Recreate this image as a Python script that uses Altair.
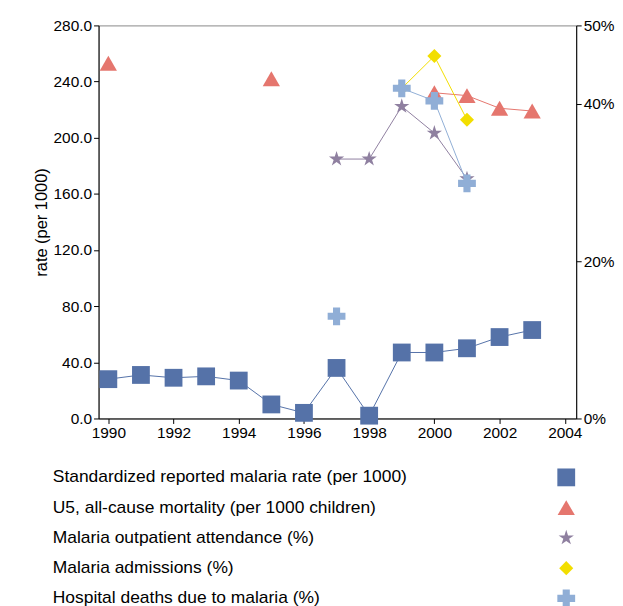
import altair as alt
import pandas as pd

FONT = "Liberation Sans"

years = list(range(1990, 2004))
rate = [28, 31, 29, 30, 27, 10, 4, 36, 2, 47, 47, 50, 58, 63]

u5_years = [1990, 1995, 2000, 2001, 2002, 2003]
u5 = [253, 242, 232, 230, 221, 219]
u5_seg = [0, 1, 2, 2, 2, 2]

out_years = [1997, 1998, 1999, 2000, 2001]
outpatient = [33.0, 33.0, 39.7, 36.3, 30.5]

adm_years = [1999, 2000, 2001]
admissions = [42.0, 46.1, 38.0]

death_years = [1997, 1999, 2000, 2001]
deaths = [13.0, 42.0, 40.4, 29.9]
death_seg = [0, 1, 1, 1]

legend_labels = [
    "Standardized reported malaria rate (per 1000)",
    "U5, all-cause mortality (per 1000 children)",
    "Malaria outpatient attendance (%)",
    "Malaria admissions (%)",
    "Hospital deaths due to malaria (%)",
]

STAR = "M0,-1L0.224,-0.309L0.951,-0.309L0.363,0.118L0.588,0.809L0,0.382L-0.588,0.809L-0.363,0.118L-0.951,-0.309L-0.224,-0.309Z"
colors = ["#5572a8", "#e5766e", "#8f80a0", "#f2de00", "#90aed6"]
shapes = ["square", "triangle-up", STAR, "diamond", "cross"]
sizes = [320, 300, 260, 200, 320]

xs = alt.Scale(domain=[1989.7, 2004.35], nice=False, zero=False)
xax = alt.X("year:Q", scale=xs, axis=alt.Axis(values=list(range(1990, 2005, 2)), format="d", title=None, grid=False))
yl = alt.Scale(domain=[0, 280], nice=False)
yr = alt.Scale(domain=[0, 50], nice=False)
yl_ax = alt.Axis(values=list(range(0, 281, 40)), format=".1f", title="rate (per 1000)", grid=False, orient="left")
yr_ax = alt.Axis(values=[0, 20, 40, 50], labelExpr="datum.value + '%'", title=None, grid=False, orient="right")


def series(df, i, y_scale, y_axis, line=True):
    base = alt.Chart(df).encode(x=xax, y=alt.Y("v:Q", scale=y_scale, axis=y_axis))
    pts = base.mark_point(shape=shapes[i], filled=True, size=sizes[i], color=colors[i], opacity=1)
    if not line:
        return pts
    ln = base.mark_line(color=colors[i], strokeWidth=1).encode(detail="seg:N")
    return ln + pts


df_rate = pd.DataFrame({"year": years, "v": rate, "seg": 0})
df_u5 = pd.DataFrame({"year": u5_years, "v": u5, "seg": u5_seg})
df_out = pd.DataFrame({"year": out_years, "v": outpatient, "seg": 0})
df_adm = pd.DataFrame({"year": adm_years, "v": admissions, "seg": 0})
df_death = pd.DataFrame({"year": death_years, "v": deaths, "seg": death_seg})

left = alt.layer(series(df_rate, 0, yl, yl_ax), series(df_u5, 1, yl, yl_ax))
right = alt.layer(series(df_out, 2, yr, yr_ax), series(df_adm, 3, yr, yr_ax), series(df_death, 4, yr, yr_ax))
main = alt.layer(left, right).resolve_scale(y="independent").properties(
    width=480, height=395, view=alt.ViewConfig(stroke="#888")
)

leg_df = pd.DataFrame({"label": legend_labels, "i": list(range(5))})
ly = alt.Scale(domain=[-0.5, 4.5], nice=False, reverse=True)
leg_text = alt.Chart(leg_df).mark_text(align="left", baseline="middle", fontSize=17.5, font=FONT, color="#000").encode(
    x=alt.value(-46), y=alt.Y("i:Q", scale=ly, axis=None), text="label:N"
)
leg_syms = [
    alt.Chart(leg_df[leg_df.i == k]).mark_point(shape=shapes[k], filled=True, size=sizes[k], color=colors[k], opacity=1).encode(
        x=alt.value(470), y=alt.Y("i:Q", scale=ly, axis=None)
    )
    for k in range(5)
]
legend = alt.layer(leg_text, *leg_syms).properties(width=480, height=152)

chart = alt.vconcat(main, legend, spacing=21).properties(
    padding={"left": 24, "top": 8, "right": 0, "bottom": 0}
).configure_view(stroke=None).configure_axis(
    labelFont=FONT, titleFont=FONT, labelFontSize=15.5, titleFontSize=16.5, titleFontWeight="normal",
    labelColor="#000", titleColor="#000", domainColor="#000", tickColor="#000"
)
chart.save("out.html", embed_options={"renderer": "svg", "actions": False})
